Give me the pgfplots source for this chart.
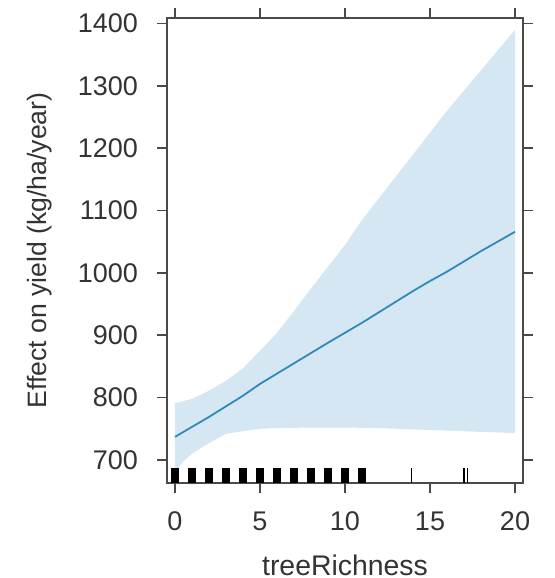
\documentclass[border=0pt]{standalone}
\usepackage{fontspec}
\setmainfont{Liberation Sans}
\usepackage{pgfplots}
\pgfplotsset{compat=1.18}
\definecolor{bandblue}{HTML}{D6E7F4}
\definecolor{lineblue}{HTML}{3189BB}
\definecolor{axgray}{HTML}{4A4A4A}
\begin{document}
\begin{tikzpicture}
\useasboundingbox (-83.5pt,-47.5pt) rectangle (193.5pt,241.5pt);
\begin{axis}[
  at={(0,0)}, anchor=south west,
  scale only axis,
  width=178pt, height=232.5pt,
  xmin=-0.47, xmax=20.47,
  ymin=663, ymax=1409,
  xtick={0,5,10,15,20},
  ytick={700,800,900,1000,1100,1200,1300,1400},
  tick align=outside,
  major tick length=5pt,
  tick pos=both,
  axis line style={axgray, line width=0.8pt},
  every tick/.style={axgray, line width=0.8pt},
  tick label style={font=\fontsize{13.5}{15}\selectfont, text=black!80},
  label style={text=black!80},
  /pgf/number format/assume math mode=true,
  /pgf/number format/1000 sep={},
  xlabel={treeRichness},
  ylabel={Effect on yield (kg/ha/year)},
  xlabel style={font=\fontsize{14.2}{16}\selectfont, at={(axis description cs:0.5,0)}, anchor=base, yshift=-46pt},
  ylabel style={font=\fontsize{13.3}{15}\selectfont, at={(axis description cs:0,0.5)}, anchor=center, rotate=0, yshift=63.5pt},
  yticklabel style={xshift=-6pt},
  xticklabel style={yshift=-6pt},
]
\addplot[fill=bandblue, draw=none] coordinates {
  (0,680) (0.5,698) (1,710) (2,727) (3,742) (4,746) (5,750) (6,751) (8,752)
  (10,752) (12,751) (14,749) (16,747) (18,745) (20,743)
  (20,1390) (18,1325) (16,1260) (14,1190) (12,1120) (11,1085) (10,1045)
  (9,1010) (8,975) (7,939) (6,904) (5,875) (4,847) (3,827) (2,811) (1,798) (0,791)
} -- cycle;
\addplot[lineblue, line width=0.9pt] coordinates {
  (0,737) (2,769) (4,803) (5,822) (7,855) (9,888) (11,920) (13,954)
  (14,971) (15,987) (16,1002) (18,1035) (20,1066)
};
\addplot[ycomb, black, line width=4pt, mark=none] coordinates {
  (0,687) (1,687) (2,687) (3,687) (4,687) (5,687) (6,687) (7,687) (8,687) (9,687) (10,687) (11,687)
};
\addplot[ycomb, black, line width=0.7pt, mark=none] coordinates {
  (13.9,687) (17.0,687) (17.2,687)
};
\end{axis}
\end{tikzpicture}
\end{document}
